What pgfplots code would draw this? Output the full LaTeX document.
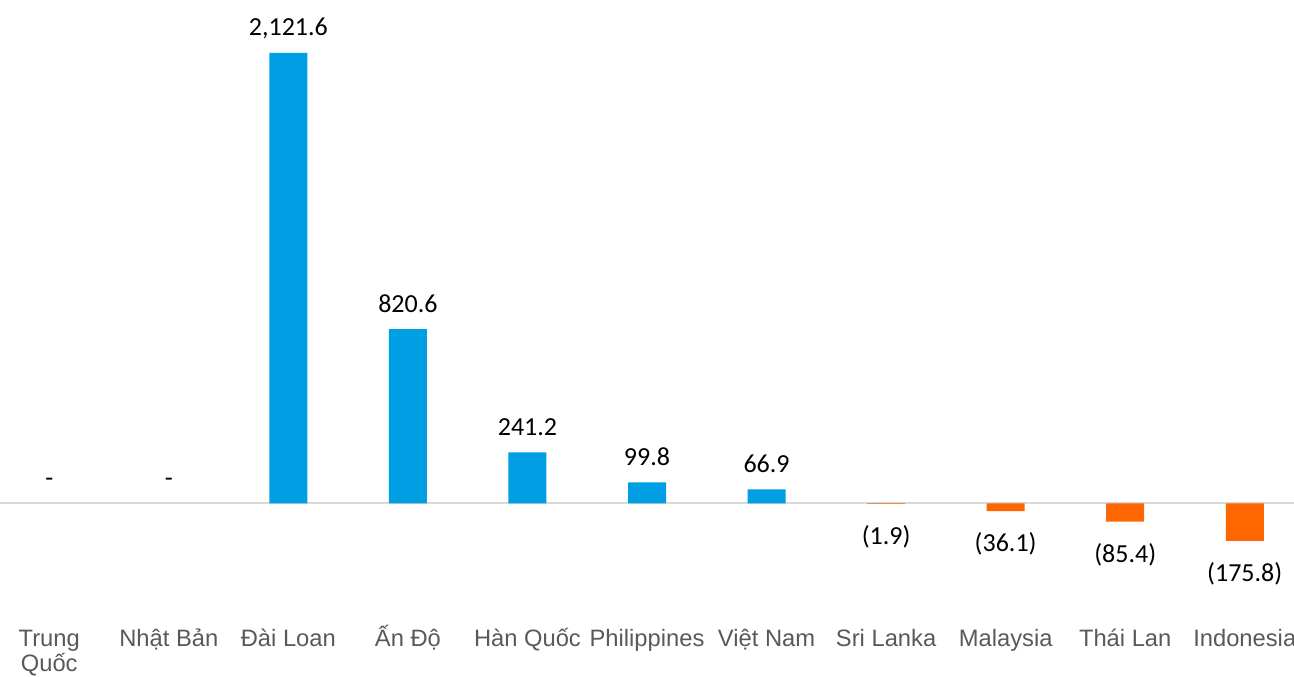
\documentclass[border=0pt]{standalone}
\usepackage{fontspec}
\setmainfont{Liberation Sans}
\newfontfamily\carlito{Carlito}
\usepackage{pgfplots}
\usepackage{pgfplotstable}
\pgfplotsset{compat=1.18}
\definecolor{barblue}{RGB}{0,159,227}
\definecolor{barorange}{RGB}{255,102,0}
\definecolor{labgrey}{RGB}{89,89,89}
\definecolor{zerogrey}{RGB}{217,217,217}
\pgfplotstableread{
x y label
2 2121.6 2,121.6
3 820.6 820.6
4 241.2 241.2
5 99.8 99.8
6 66.9 66.9
}\pos
\pgfplotstableread{
x y label
7 -1.9 (1.9)
8 -36.1 (36.1)
9 -85.4 (85.4)
10 -175.8 (175.8)
}\neg
\pgfplotstableread{
x y label
0 0 -
1 0 -
}\zero
\begin{document}
\begin{tikzpicture}
\begin{axis}[
  at={(0,0)}, anchor=south west,
  scale only axis,
  width=970.5pt, height=507.75pt,
  xmin=-0.412, xmax=10.412,
  ymin=-817.1, ymax=2371.2,
  axis line style={draw=none},
  major tick style={draw=none},
  ytick=\empty,
  extra y ticks={0},
  extra y tick labels={},
  extra y tick style={grid=major, major grid style={zerogrey, line width=1.5pt}, major tick style={draw=none}},
  xtick={0,1,2,3,4,5,6,7,8,9,10},
  xticklabels={{\rule{0pt}{1.15em}Trung\\Quốc},{\rule{0pt}{1.15em}Nhật Bản},{\rule{0pt}{1.15em}Đài Loan},{\rule{0pt}{1.15em}Ấn Độ},{\rule{0pt}{1.15em}Hàn Quốc},{\rule{0pt}{1.15em}Philippines},{\rule{0pt}{1.15em}Việt Nam},{\rule{0pt}{1.15em}Sri Lanka},{\rule{0pt}{1.15em}Malaysia},{\rule{0pt}{1.15em}Thái Lan},{\rule{0pt}{1.15em}Indonesia}},
  xticklabel style={align=center, anchor=north, inner sep=0pt, yshift=43.5pt, text=labgrey, font=\fontsize{17.8}{19}\selectfont},
  clip=false,
]
\addplot[ybar, bar shift=0pt, bar width=28.5pt, fill=barblue, draw=none,
  nodes near coords, point meta=explicit symbolic,
  every node near coord/.append style={anchor=base, yshift=12.75pt, inner sep=0pt, text=black, font=\carlito\fontsize{19.5}{22}\selectfont}]
  table[x=x, y=y, meta=label] {\pos};
\addplot[ybar, bar shift=0pt, bar width=28.5pt, fill=barorange, draw=none,
  nodes near coords, point meta=explicit symbolic,
  every node near coord/.append style={anchor=base, yshift=-30.5pt, inner sep=0pt, text=black, font=\carlito\fontsize{19.5}{22}\selectfont}]
  table[x=x, y=y, meta=label] {\neg};
\addplot[draw=none, mark=none,
  nodes near coords, point meta=explicit symbolic,
  every node near coord/.append style={anchor=base, yshift=12.75pt, inner sep=0pt, text=black, font=\carlito\fontsize{19.5}{22}\selectfont}]
  table[x=x, y=y, meta=label] {\zero};
\end{axis}
\pgfresetboundingbox
\useasboundingbox (0,0) rectangle (970.5pt,507.75pt);
\end{tikzpicture}
\end{document}
